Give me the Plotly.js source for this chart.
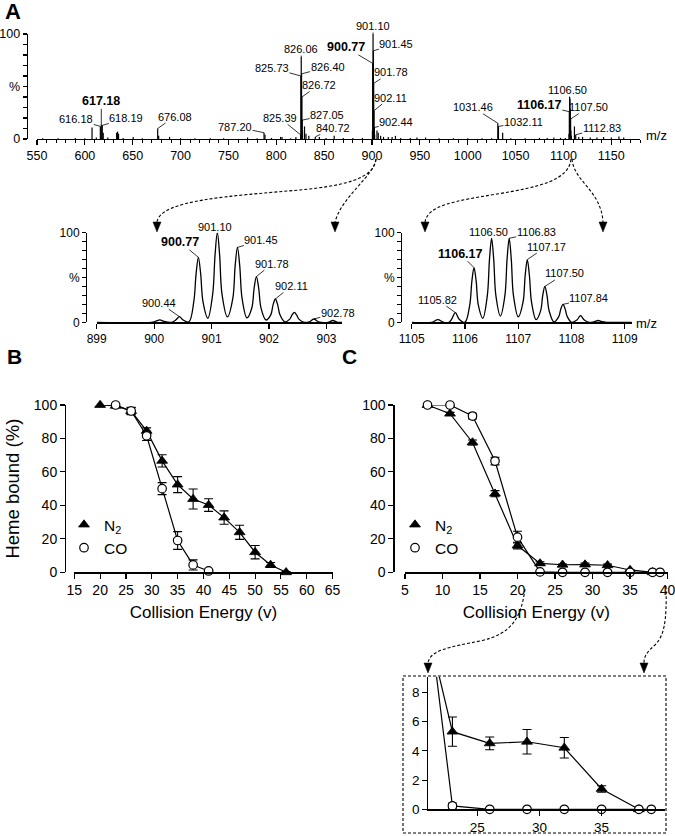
<!DOCTYPE html>
<html>
<head>
<meta charset="utf-8">
<script src="https://cdn.plot.ly/plotly-3.0.1.min.js"></script>
<style>html,body{margin:0;padding:0;background:#fff;}#chart{width:675px;height:836px;}</style>
</head>
<body>
<div id="chart"></div>
<script>
// ---------- DATA ----------
// Panel A: full MS spectrum (stick peaks), m/z and relative intensity (%)
const mzMain = [556, 572, 590, 600, 607.5, 612, 616.18, 617.18, 618.19, 619.2, 624, 633.2, 634.2, 635.2, 640, 650.5, 660, 676.08, 677.1, 688.5, 700, 715, 731, 745, 770, 780, 787.20, 788.2, 795, 804.5, 806, 815, 820.5, 825.39, 825.73, 826.06, 826.40, 826.72, 827.05, 827.39, 829.5, 831, 834, 840.72, 845, 852, 860.5, 870, 880, 890, 900.44, 900.77, 901.10, 901.45, 901.78, 902.11, 902.44, 902.78, 905.2, 906.5, 909, 912, 917, 921, 924.5, 930, 940, 947, 956, 970, 985, 1000, 1015, 1025, 1031.46, 1032.11, 1036.5, 1045, 1060, 1075, 1083, 1090, 1097, 1102, 1105.82, 1106.17, 1106.50, 1106.83, 1107.17, 1107.50, 1107.84, 1108.17, 1111.5, 1112.83, 1116, 1120, 1128, 1135, 1142, 1150, 1158, 1163];
const intMain = [0.8, 0.8, 1, 0.8, 11, 1.5, 12, 14, 13, 6, 1.5, 6, 7, 5, 1, 2, 0.8, 10, 3, 2, 0.8, 0.8, 0.8, 0.8, 1.5, 0.8, 6, 4, 1, 2, 2, 0.8, 2, 4, 60, 78, 62, 40, 18, 8, 12, 5, 3, 2, 2, 1, 3, 1, 1, 1, 8, 72, 100, 84, 53, 27, 11, 4, 8, 6, 3, 2, 2, 2, 3, 1, 1, 1.5, 1.5, 0.8, 0.8, 0.8, 0.8, 0.8, 15, 12, 6, 0.8, 0.8, 1, 1, 1.5, 1, 1, 5, 26, 40, 38, 29, 19, 8, 3, 12, 4, 2, 2, 1.5, 1.5, 2, 1.5, 2.5, 1.5];
const mainLabels = ['617.18', '616.18', '618.19', '676.08', '787.20', '825.39', '825.73', '826.06', '826.40', '826.72', '827.05', '840.72', '900.77', '901.10', '901.45', '901.78', '902.11', '902.44', '1031.46', '1032.11', '1106.50', '1106.17', '1107.50', '1112.83'];
const mainBold = ['617.18', '900.77', '1106.17'];
const mainTicks = [550, 600, 650, 700, 750, 800, 850, 900, 950, 1000, 1050, 1100, 1150];

// Inset 1 (m/z 899-903) profile points
const ins1X = [899.00, 899.95, 900.03, 900.10, 900.17, 900.30, 900.38, 900.44, 900.50, 900.605, 900.69, 900.73, 900.77, 900.81, 900.85, 900.935, 901.02, 901.06, 901.10, 901.14, 901.18, 901.275, 901.37, 901.41, 901.45, 901.49, 901.53, 901.615, 901.70, 901.74, 901.78, 901.82, 901.86, 901.945, 902.03, 902.07, 902.11, 902.15, 902.19, 902.275, 902.36, 902.40, 902.44, 902.48, 902.52, 902.61, 902.70, 902.78, 902.86, 903.03, 903.11, 903.19, 903.27];
const ins1Y = [0, 0, 1.2, 2.6, 1.0, 0, 2.8, 6.3, 2.8, 0.5, 23, 54, 72.5, 54, 23, 4.5, 32, 75, 100, 75, 32, 6, 27, 63, 83.6, 63, 27, 5, 16, 38, 51, 38, 16, 2.6, 8.3, 19.5, 26, 19.5, 8.3, 0.5, 3.5, 8.2, 11, 8.2, 3.5, 0, 0.5, 3.7, 0.5, 0, 2, 0, 0];
const ins1Labels = ['900.44', '900.77', '901.10', '901.45', '901.78', '902.11', '902.78'];
const ins1Bold = ['900.77'];

// Inset 2 (m/z 1105-1109) profile points
const ins2X = [1105.00, 1105.38, 1105.49, 1105.60, 1105.70, 1105.75, 1105.82, 1105.89, 1106.00, 1106.09, 1106.13, 1106.17, 1106.21, 1106.25, 1106.335, 1106.42, 1106.46, 1106.50, 1106.54, 1106.58, 1106.665, 1106.75, 1106.79, 1106.83, 1106.87, 1106.91, 1107.00, 1107.09, 1107.13, 1107.17, 1107.21, 1107.25, 1107.335, 1107.42, 1107.46, 1107.50, 1107.54, 1107.58, 1107.67, 1107.76, 1107.80, 1107.84, 1107.88, 1107.92, 1108.00, 1108.10, 1108.17, 1108.24, 1108.33, 1108.43, 1108.50, 1108.57, 1108.66, 1109.13];
const ins2Y = [0, 0, 3, 0, 0, 3.5, 10.8, 3.5, 0, 19.5, 46, 61, 46, 19.5, 4.5, 30, 70, 93.7, 70, 30, 7, 30, 70, 93.7, 70, 30, 6, 22.4, 52, 70, 52, 22.4, 3, 12.8, 30, 40, 30, 12.8, 0.5, 6.4, 15, 20, 15, 6.4, 0, 2.5, 7.4, 2.5, 0, 0.7, 2, 0.7, 0, 0];
const ins2Labels = ['1105.82', '1106.17', '1106.50', '1106.83', '1107.17', '1107.50', '1107.84'];
const ins2Bold = ['1106.17'];

// Panel B: heme bound (%) vs collision energy
const bN2x = [20, 23, 26, 29, 32, 35, 38, 41, 44, 47, 50, 53, 56];
const bN2y = [100, 99.5, 96.4, 84.5, 66.6, 52.4, 43.8, 40.2, 32.7, 23.9, 12, 4.4, 0];
const bN2e = [0.8, 1, 2.2, 1.8, 3.7, 4.8, 6, 3.8, 4, 4.2, 4, 1.5, 0.5];
const bCOx = [23, 26, 29, 32, 35, 38, 41];
const bCOy = [100, 96.4, 81.6, 50, 19, 4.4, 0.8];
const bCOe = [0.8, 2, 2.8, 3.6, 5.3, 3, 0.5];

// Panel C
const cN2x = [8, 11, 14, 17, 20, 23, 26, 29, 32, 35, 38];
const cN2y = [100, 94.8, 77.6, 47, 16, 5.31, 4.51, 4.62, 4.21, 1.39, 0];
const cN2e = [0.8, 0.8, 1.5, 1.8, 2, 1.0, 0.44, 0.84, 0.7, 0.22, 0];
const cCOx = [8, 11, 14, 17, 20, 23, 26, 29, 32, 35, 38, 39];
const cCOy = [100, 100, 93.4, 66.5, 21, 0.23, 0, 0, 0, 0, 0, 0];
const cCOe = [0.8, 0.5, 1.7, 2.3, 3.5, 0.2, 0, 0, 0, 0, 0, 0];

const seriesNames = ['N<sub>2</sub>', 'CO'];
const xTitle = 'Collision Energy (v)';
const yTitle = 'Heme bound (%)';

// ---------- LAYOUT HELPERS ----------
const W = 675, H = 836;
const FONT = 'Liberation Sans, Arial, Helvetica, sans-serif';
const hx = px => px / W;
const vy = py => 1 - py / H;
const hdom = (a, b) => [a / W, b / W];
const vdom = (top, bot) => [1 - bot / H, 1 - top / H];
const P = (x, y) => (x / W).toFixed(5) + ' ' + (1 - y / H).toFixed(5);

function axisBase(extra) {
  return Object.assign({
    showline: true, linecolor: '#000', linewidth: 1.2,
    ticks: 'outside', tickcolor: '#000', tickwidth: 1.1, ticklen: 5,
    showgrid: false, zeroline: false, fixedrange: true, automargin: false,
    ticklabeloverflow: 'allow',
    tickfont: {family: FONT, size: 12.5, color: '#000'}
  }, extra);
}
const pctMajor = [0, 50, 100];
const pctText = ['0', '%', '100'];
const pctMinor = {tickmode: 'array', tickvals: [10, 20, 30, 40, 60, 70, 80, 90], ticks: 'outside', ticklen: 4, tickcolor: '#000', tickwidth: 1.1, showgrid: false};

// ---------- TRACES ----------
const stickX = [], stickY = [];
mzMain.forEach((m, i) => { stickX.push(m, m, null); stickY.push(0, intMain[i], null); });

const traces = [];
traces.push({x: stickX, y: stickY, xaxis: 'x', yaxis: 'y', mode: 'lines', line: {color: '#000', width: 1.2}, showlegend: false, hoverinfo: 'skip'});
traces.push({x: ins1X, y: ins1Y, xaxis: 'x2', yaxis: 'y2', mode: 'lines', line: {color: '#000', width: 1.3, shape: 'spline', smoothing: 1}, showlegend: false});
traces.push({x: ins2X, y: ins2Y, xaxis: 'x3', yaxis: 'y3', mode: 'lines', line: {color: '#000', width: 1.3, shape: 'spline', smoothing: 1}, showlegend: false});

const triMarker = {symbol: 'triangle-up', size: 9.5, color: '#000', line: {color: '#000', width: 0.8}};
const cirMarker = {symbol: 'circle', size: 8.5, color: '#fff', line: {color: '#000', width: 1.2}};
function errBar(arr) { return {type: 'data', array: arr, visible: true, color: '#000', thickness: 1.1, width: 4.5}; }

function addPanel(xa, ya, n2x, n2y, n2e, cox, coy, coe, legendId) {
  traces.push({x: n2x, y: n2y, xaxis: xa, yaxis: ya, mode: 'lines', line: {color: '#000', width: 1.2}, showlegend: false, hoverinfo: 'skip'});
  traces.push({x: cox, y: coy, xaxis: xa, yaxis: ya, mode: 'lines', line: {color: '#000', width: 1.2}, showlegend: false, hoverinfo: 'skip'});
  traces.push({x: n2x, y: n2y, error_y: errBar(n2e), xaxis: xa, yaxis: ya, mode: 'markers', marker: triMarker, name: seriesNames[0], showlegend: true, legend: legendId, cliponaxis: false});
  traces.push({x: cox, y: coy, error_y: errBar(coe), xaxis: xa, yaxis: ya, mode: 'markers', marker: cirMarker, name: seriesNames[1], showlegend: true, legend: legendId, cliponaxis: false});
}
addPanel('x4', 'y4', bN2x, bN2y, bN2e, bCOx, bCOy, bCOe, 'legend');
addPanel('x5', 'y5', cN2x, cN2y, cN2e, cCOx, cCOy, cCOe, 'legend2');

// Inset of panel C (same data, zoomed): lines clipped by axes, markers only inside the window
const INS_X0 = 21.06, INS_X1 = 40.1, INS_Y1 = 9.07;
const inWin = (xs, ys, arr) => arr.filter((_, i) => xs[i] > INS_X0 && ys[i] <= INS_Y1);
traces.push({x: cN2x, y: cN2y, xaxis: 'x6', yaxis: 'y6', mode: 'lines', line: {color: '#000', width: 1.2}, showlegend: false, hoverinfo: 'skip'});
traces.push({x: cCOx, y: cCOy, xaxis: 'x6', yaxis: 'y6', mode: 'lines', line: {color: '#000', width: 1.2}, showlegend: false, hoverinfo: 'skip'});
traces.push({x: inWin(cN2x, cN2y, cN2x), y: inWin(cN2x, cN2y, cN2y), error_y: errBar(inWin(cN2x, cN2y, cN2e)), xaxis: 'x6', yaxis: 'y6', mode: 'markers', marker: triMarker, showlegend: false, cliponaxis: false});
traces.push({x: inWin(cCOx, cCOy, cCOx), y: inWin(cCOx, cCOy, cCOy), error_y: errBar(inWin(cCOx, cCOy, cCOe)), xaxis: 'x6', yaxis: 'y6', mode: 'markers', marker: cirMarker, showlegend: false, cliponaxis: false});

// ---------- ANNOTATIONS ----------
const ann = [];
function peakLabel(xa, ya, xs, ys, label, off, bold) {
  const m = parseFloat(label);
  let idx = 0, best = 1e9;
  xs.forEach((v, i) => { const d = Math.abs(v - m); if (d < best) { best = d; idx = i; } });
  ann.push({
    xref: xa, yref: ya, x: xs[idx], y: ys[idx],
    text: bold ? '<b>' + label + '</b>' : label,
    showarrow: true, arrowhead: 0, arrowwidth: 0.8, arrowcolor: '#000', standoff: 0, startstandoff: 0,
    ax: off[0], ay: off[1],
    font: {family: FONT, size: bold ? 12.5 : 11, color: '#000'}, borderpad: 0
  });
}
// label offsets (px) for the leaders
const mainOff = {'617.18': [0, -23], '616.18': [-24, -7], '618.19': [24, -7], '676.08': [17, -12], '787.20': [-29, -6], '825.39': [-21, -17], '825.73': [-29, -8], '826.06': [0, -8], '826.40': [26, -7], '826.72': [17, -12], '827.05': [25, -5], '840.72': [18, -9], '900.77': [-27, -16], '901.10': [0, -8], '901.45': [23, -7], '901.78': [17, -11], '902.11': [16, -13], '902.44': [22, -5], '1031.46': [-25, -16], '1032.11': [25, -4], '1106.50': [-2, -7], '1106.17': [-30, -7], '1107.50': [18, -12], '1112.83': [26, -7]};
mainLabels.forEach(l => peakLabel('x', 'y', mzMain, intMain, l, mainOff[l], mainBold.includes(l)));
const ins1Off = {'900.44': [-20, -14], '900.77': [-18, -15], '901.10': [-2, -6], '901.45': [24, -7], '901.78': [16, -13], '902.11': [16, -13], '902.78': [24, -6]};
ins1Labels.forEach(l => peakLabel('x2', 'y2', ins1X, ins1Y, l, ins1Off[l], ins1Bold.includes(l)));
const ins2Off = {'1105.82': [-18, -13], '1106.17': [-14, -14], '1106.50': [-3, -6], '1106.83': [27, -6], '1107.17': [19, -13], '1107.50': [20, -13], '1107.84': [26, -6]};
ins2Labels.forEach(l => peakLabel('x3', 'y3', ins2X, ins2Y, l, ins2Off[l], ins2Bold.includes(l)));

function paperText(text, px, py, size, bold, anchor) {
  ann.push({xref: 'paper', yref: 'paper', x: hx(px), y: vy(py), text: bold ? '<b>' + text + '</b>' : text, showarrow: false,
    xanchor: anchor || 'center', yanchor: 'middle', font: {family: FONT, size: size, color: '#000'}});
}
paperText('A', 13, 11, 22, true);
paperText('B', 14, 356, 21, true);
paperText('C', 349, 356, 21, true);
paperText('m/z', 644, 136, 13, false, 'left');
paperText('m/z', 634, 323, 13, false, 'left');

// ---------- SHAPES (dashed connector arrows, inset frame) ----------
const dashLine = {color: '#000', width: 1.1, dash: '3px,2px'};
const shapes = [];
function curve(d) { shapes.push({type: 'path', xref: 'paper', yref: 'paper', path: d, line: dashLine}); }
function head(x, yTip) {
  shapes.push({type: 'path', xref: 'paper', yref: 'paper', path: 'M ' + P(x - 4, yTip - 10) + ' L ' + P(x + 4, yTip - 10) + ' L ' + P(x, yTip) + ' Z', fillcolor: '#000', line: {color: '#000', width: 0.5}});
}
curve('M ' + P(376, 159) + ' C ' + P(374, 180) + ' ' + P(340, 186) + ' ' + P(300, 190) + ' C ' + P(230, 196) + ' ' + P(160, 200) + ' ' + P(157, 222));
curve('M ' + P(376, 159) + ' C ' + P(374, 176) + ' ' + P(342, 196) + ' ' + P(335, 222));
curve('M ' + P(571, 159) + ' C ' + P(569, 180) + ' ' + P(540, 187) + ' ' + P(497, 194) + ' C ' + P(455, 201) + ' ' + P(428, 205) + ' ' + P(425, 222));
curve('M ' + P(572, 159) + ' C ' + P(574, 182) + ' ' + P(601, 190) + ' ' + P(603, 222));
head(157, 232); head(335, 232); head(425, 232); head(603, 232);
curve('M ' + P(525, 589) + ' C ' + P(521, 618) + ' ' + P(512, 634) + ' ' + P(480, 641) + ' C ' + P(450, 647) + ' ' + P(430, 650) + ' ' + P(428, 663));
curve('M ' + P(666, 586) + ' C ' + P(667, 622) + ' ' + P(664, 636) + ' ' + P(655, 645) + ' C ' + P(647, 652) + ' ' + P(644, 656) + ' ' + P(644, 663));
head(428, 673); head(644, 673);
shapes.push({type: 'rect', xref: 'paper', yref: 'paper', x0: hx(403), x1: hx(666), y0: vy(833), y1: vy(676), line: dashLine, fillcolor: 'rgba(0,0,0,0)'});

// ---------- LAYOUT ----------
const smallTick = {family: FONT, size: 12, color: '#000'};
const bigTick = {family: FONT, size: 14, color: '#000'};
const layout = {
  width: W, height: H, margin: {l: 0, r: 0, t: 0, b: 0}, paper_bgcolor: '#fff', plot_bgcolor: 'rgba(0,0,0,0)',
  font: {family: FONT, color: '#000'},
  showlegend: true,
  xaxis: axisBase({domain: hdom(37, 640), range: [550, 1180], anchor: 'y', tickmode: 'array', tickvals: mainTicks, ticklen: 5,
    minor: {dtick: 10, tick0: 550, ticks: 'outside', ticklen: 3, tickcolor: '#000', tickwidth: 1, showgrid: false}}),
  yaxis: axisBase({domain: vdom(34, 139), range: [0, 100], anchor: 'free', position: hx(26.7), tickmode: 'array', tickvals: pctMajor, ticktext: pctText, ticklen: 4, minor: pctMinor}),
  xaxis2: axisBase({domain: hdom(96.7, 342), range: [899, 903.27], anchor: 'y2', dtick: 1, tick0: 899, tickfont: smallTick}),
  yaxis2: axisBase({domain: vdom(232.7, 322.3), range: [0, 100], anchor: 'free', position: hx(86), tickmode: 'array', tickvals: pctMajor, ticktext: pctText, ticklen: 4, minor: pctMinor, tickfont: smallTick}),
  xaxis3: axisBase({domain: hdom(411.7, 631.7), range: [1105, 1109.13], anchor: 'y3', dtick: 1, tick0: 1105, tickfont: smallTick}),
  yaxis3: axisBase({domain: vdom(232.7, 322.3), range: [0, 100], anchor: 'free', position: hx(401), tickmode: 'array', tickvals: pctMajor, ticktext: pctText, ticklen: 4, minor: pctMinor, tickfont: smallTick}),
  xaxis4: axisBase({domain: hdom(74.3, 332.7), range: [15, 65.02], anchor: 'y4', tickmode: 'array', tickvals: [15, 20, 25, 30, 35, 40, 45, 50, 55, 60, 65], tickfont: bigTick,
    title: {text: xTitle, font: {family: FONT, size: 17, color: '#000'}, standoff: 8}}),
  yaxis4: axisBase({domain: vdom(405, 572.3), range: [0, 100], anchor: 'free', position: hx(65), dtick: 20, tickfont: bigTick,
    title: {text: yTitle, font: {family: FONT, size: 18.5, color: '#000'}, standoff: 8}}),
  xaxis5: axisBase({domain: hdom(405, 667.7), range: [5, 40.02], anchor: 'y5', tickmode: 'array', tickvals: [5, 10, 15, 20, 25, 30, 35, 40], tickfont: bigTick,
    title: {text: xTitle, font: {family: FONT, size: 17, color: '#000'}, standoff: 8}}),
  yaxis5: axisBase({domain: vdom(405, 572.3), range: [0, 100], anchor: 'free', position: hx(393.3), dtick: 20, tickfont: bigTick}),
  xaxis6: axisBase({domain: hdom(428.3, 665), range: [INS_X0, INS_X1], anchor: 'y6', tickmode: 'array', tickvals: [25, 30, 35], tickfont: {family: FONT, size: 13.5, color: '#000'}}),
  yaxis6: axisBase({domain: vdom(676.7, 809.3), range: [0, INS_Y1], anchor: 'x6', tickmode: 'array', tickvals: [0, 2, 4, 6, 8], tickfont: {family: FONT, size: 13.5, color: '#000'}}),
  legend: {x: hx(64), y: vy(508), xanchor: 'left', yanchor: 'top', bgcolor: 'rgba(0,0,0,0)', borderwidth: 0, font: {family: FONT, size: 15.5, color: '#000'}, itemwidth: 30, tracegroupgap: 0},
  legend2: {x: hx(395), y: vy(508), xanchor: 'left', yanchor: 'top', bgcolor: 'rgba(0,0,0,0)', borderwidth: 0, font: {family: FONT, size: 15.5, color: '#000'}, itemwidth: 30, tracegroupgap: 0},
  annotations: ann,
  shapes: shapes
};

Plotly.newPlot('chart', traces, layout, {staticPlot: true, displayModeBar: false});
</script>
</body>
</html>
